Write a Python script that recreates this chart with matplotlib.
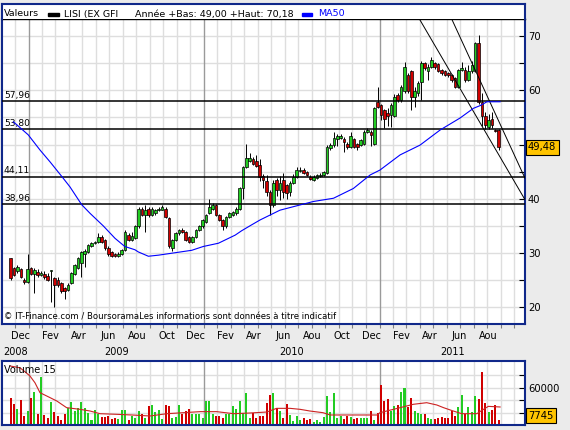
import matplotlib
matplotlib.use('Agg')
import matplotlib.pyplot as plt
import matplotlib.patches as mpatches
import pandas as pd

# weekly candles, first one dated 2008-11-25
start = pd.Timestamp('2008-11-25')

opens = [29.0, 27.2, 26.6, 27.0, 25.0, 24.6, 27.2, 26.1, 26.5, 25.9,
         26.2, 25.8, 26.6, 25.3, 25.1, 24.4, 23.5, 23.2, 24.4, 26.2,
         27.2, 28.1, 29.9, 30.2, 31.3, 31.9, 32.1, 33.0, 32.4, 30.9,
         30.2, 29.8, 29.4, 29.9, 30.5, 33.4, 32.4, 32.7, 34.9, 38.2,
         37.0, 38.2, 37.0, 37.3, 37.9, 38.0, 38.2, 36.4, 30.9, 32.4,
         33.6, 34.2, 33.9, 33.0, 32.1, 33.0, 34.2, 34.9, 35.8, 37.4,
         38.2, 38.9, 37.0, 36.1, 34.9, 36.7, 37.0, 37.3, 38.2, 41.9,
         45.9, 46.9, 47.4, 46.9, 46.2, 44.2, 43.2, 41.3, 38.8, 43.5,
         41.6, 43.5, 42.5, 41.3, 42.9, 44.1, 45.1, 45.4, 45.0, 44.1,
         43.5, 43.8, 44.2, 44.4, 44.7, 49.4, 49.9, 51.0, 51.3, 51.0,
         50.1, 49.6, 51.0, 50.1, 49.9, 50.2, 52.4, 52.4, 50.2, 57.9,
         57.3, 56.4, 55.8, 55.5, 55.2, 59.2, 58.2, 59.8, 62.8, 63.5,
         58.85, 59.5, 61.6, 65.0, 63.5, 64.4, 65.0, 64.8, 63.8, 63.5,
         63.2, 62.8, 62.2, 60.7, 63.8, 63.8, 61.9, 63.5, 63.5, 68.7,
         57.9, 55.2, 53.3, 54.8, 52.7, 52.7]
highs = [29.1, 27.4, 27.7, 27.3, 25.3, 29.9, 27.4, 27.3, 27.0, 26.7,
         26.7, 26.4, 26.9, 25.5, 25.6, 24.7, 23.8, 24.4, 26.5, 28.0,
         29.2, 30.4, 30.8, 31.7, 32.1, 32.3, 33.6, 33.3, 32.6, 31.2,
         30.4, 30.0, 30.2, 30.8, 34.2, 33.6, 33.8, 35.2, 38.5, 38.4,
         38.9, 38.4, 38.5, 38.2, 38.5, 38.9, 38.5, 36.6, 32.6, 33.8,
         34.4, 34.6, 34.1, 33.2, 33.2, 34.4, 35.1, 36.2, 37.2, 39.9,
         39.2, 39.1, 37.2, 36.3, 36.9, 37.5, 37.8, 38.4, 42.1, 46.0,
         50.2, 48.5, 47.7, 48.0, 47.4, 44.5, 44.3, 41.6, 43.4, 43.9,
         44.2, 44.7, 42.8, 43.2, 44.5, 45.8, 45.9, 45.6, 45.2, 44.4,
         44.3, 44.5, 44.7, 45.2, 50.0, 50.3, 52.4, 51.9, 52.0, 51.4,
         50.4, 52.4, 51.3, 50.3, 51.1, 52.7, 53.0, 52.7, 57.0, 60.7,
         57.5, 56.6, 56.8, 57.6, 59.3, 59.6, 61.0, 65.3, 63.2, 63.8,
         60.7, 61.8, 65.5, 65.3, 64.8, 66.2, 65.3, 65.0, 64.0, 63.7,
         63.4, 63.0, 62.4, 64.0, 65.2, 64.3, 64.6, 65.4, 69.0, 70.18,
         59.5, 56.0, 55.7, 56.0, 52.9, 52.9]
lows = [25.1, 25.7, 26.3, 25.4, 24.3, 24.4, 25.9, 22.6, 25.6, 25.7,
        25.2, 24.8, 21.0, 20.0, 23.8, 22.6, 21.6, 22.9, 24.2, 26.0,
        27.0, 25.6, 27.5, 30.0, 31.1, 31.6, 31.9, 31.8, 30.5, 29.5,
        29.3, 29.2, 29.2, 29.7, 30.4, 32.2, 32.2, 32.5, 34.7, 36.8,
        33.9, 36.7, 36.8, 37.1, 37.7, 37.9, 36.5, 31.0, 30.3, 32.2,
        33.4, 33.6, 32.2, 31.8, 31.9, 32.8, 34.0, 34.7, 35.6, 37.2,
        38.0, 36.8, 35.9, 34.2, 34.7, 36.5, 36.8, 37.1, 38.0, 40.0,
        45.7, 46.7, 46.3, 45.8, 43.2, 42.0, 40.5, 37.0, 38.5, 40.5,
        39.8, 40.2, 40.0, 40.5, 42.7, 43.9, 44.9, 44.5, 44.2, 43.4,
        43.3, 43.7, 44.0, 44.2, 44.5, 49.0, 49.6, 49.8, 51.0, 48.7,
        49.2, 49.3, 49.3, 49.0, 49.7, 49.9, 52.2, 49.8, 50.0, 56.8,
        54.5, 53.0, 53.5, 53.3, 55.0, 57.8, 57.9, 59.5, 59.5, 56.4,
        56.9, 59.0, 58.2, 63.8, 62.0, 64.2, 64.0, 63.3, 62.9, 62.6,
        62.5, 61.5, 60.5, 60.5, 63.5, 61.6, 61.7, 63.2, 63.3, 57.5,
        53.5, 52.8, 52.9, 53.0, 52.3, 49.0]
closes = [25.3, 25.9, 27.5, 25.6, 24.6, 27.0, 26.1, 26.8, 25.9, 26.4,
          25.6, 25.0, 26.8, 24.1, 24.1, 22.9, 22.9, 24.1, 26.3, 27.8,
          29.0, 30.2, 30.4, 31.5, 31.9, 32.1, 33.0, 32.1, 30.9, 29.8,
          29.5, 29.4, 29.9, 30.6, 33.9, 32.4, 33.2, 34.9, 38.2, 37.0,
          38.0, 37.0, 38.2, 37.9, 38.2, 38.4, 36.7, 31.2, 32.4, 33.6,
          34.2, 33.9, 32.4, 32.1, 33.0, 34.2, 34.9, 36.0, 37.0, 38.4,
          38.9, 37.0, 36.1, 34.9, 36.7, 37.3, 37.6, 38.2, 41.9, 45.9,
          47.5, 47.5, 46.5, 46.0, 44.1, 43.5, 41.3, 38.8, 43.0, 41.6,
          43.0, 41.3, 41.0, 42.9, 44.1, 45.3, 45.4, 44.8, 44.4, 43.6,
          44.1, 44.3, 44.4, 44.9, 49.6, 49.9, 51.2, 51.5, 51.5, 50.4,
          49.6, 51.6, 49.6, 49.6, 50.8, 52.4, 52.7, 51.8, 56.7, 57.0,
          55.5, 54.8, 55.2, 57.3, 58.85, 58.2, 60.7, 64.4, 59.8, 58.85,
          59.8, 61.3, 65.0, 64.1, 64.4, 65.6, 64.4, 63.6, 63.2, 62.9,
          62.8, 61.9, 60.7, 63.8, 64.1, 61.9, 63.5, 64.7, 68.7, 57.9,
          55.2, 53.6, 54.5, 53.6, 52.5, 49.48]
volumes = [44000, 34300, 25200, 39700, 14500, 22500, 44000, 53600, 18200, 77200,
           16100, 11800, 37500, 21500, 14500, 7500, 18200, 27900, 37500, 22500,
           27900, 37500, 27900, 19800, 7500, 24100, 18200, 12900, 12900, 14500,
           9100, 11800, 9100, 24100, 24100, 7500, 14500, 12000, 22500, 17200,
           11800, 30600, 32200, 21500, 24100, 9100, 32200, 30600, 11800, 12900,
           32200, 17200, 22500, 25200, 17200, 17200, 18200, 11800, 38600, 38600,
           17200, 14500, 14500, 11800, 17200, 17200, 30600, 25200, 38600, 19800,
           52000, 11800, 19800, 11800, 14500, 14500, 35900, 48300, 52000, 27900,
           22000, 10700, 33300, 16100, 6400, 14500, 7500, 10700, 7500, 9100,
           5400, 7500, 5400, 12900, 46700, 21500, 52000, 11800, 14500, 9100,
           14500, 12900, 9100, 10700, 10700, 10700, 11800, 22500, 7500, 19800,
           64400, 38600, 41300, 22500, 30600, 32200, 53600, 59000, 29000, 44000,
           22500, 19800, 17200, 17200, 10700, 9100, 9100, 11800, 12900, 10700,
           10700, 22500, 14500, 29000, 48300, 17200, 29000, 21500, 46700, 42400,
           85300, 35900, 21500, 23600, 32200, 7745]

# MA50 (week index, value)
ma50_weeks = [0.8, 5.2, 8.7, 11.7, 15.2, 17.6, 21.1, 23.6, 27.5, 31.0, 33.9,
              36.9, 37.9, 40.9, 43.9, 48.3, 53.8, 57.2, 61.7, 66.7, 68.6, 71.6,
              74.1, 80.0, 89.9, 95.9, 101.8, 106.8, 109.7, 115.7, 121.6, 127.6,
              133.5, 137.5, 139.5, 141.5, 145.4]
ma50_values = [54.2, 51.8, 49.0, 46.8, 44.1, 42.2, 38.9, 37.3, 35.0, 32.7, 31.2,
               30.6, 30.2, 29.4, 29.6, 30.0, 30.5, 31.2, 31.8, 33.3, 34.1, 35.2,
               36.1, 37.9, 39.5, 40.1, 41.9, 44.4, 45.3, 48.1, 49.9, 52.7,
               54.9, 56.7, 57.2, 57.9, 57.9]

# volume moving average (15)
volma_weeks = [-0.2, 2.8, 5.7, 7.2, 8.7, 11.7, 13.7, 16.6, 20.6, 23.6, 26.5,
               31.5, 36.4, 41.4, 46.4, 51.3, 56.3, 61.2, 66.2, 71.1, 76.1, 79.0,
               83.0, 86.0, 88.9, 92.8, 94.9, 108.8, 109.7, 115.7, 119.6, 123.6,
               126.6, 128.6, 131.5, 134.0, 138.5, 140.0, 141.9, 145.4]
volma_values = [95000, 92000, 79000, 68000, 52000, 44000, 38600, 27900, 25200,
                22500, 18200, 17200, 16000, 14500, 18200, 19800, 21500, 21500,
                18200, 19300, 20900, 26800, 26800, 25200, 22500, 19800, 16100,
                16100, 19800, 27900, 33300, 35900, 32200, 27900, 22500, 18200,
                18200, 23600, 30000, 29000]

levels = [57.96, 52.82, 44.11, 38.96]
level_labels = ['57,96', '53,80', '44,11', '38,96']

trend_lines = [((121.4, 73.2), (153.3, 39.3)), ((131.0, 73.2), (152.8, 43.8))]

month_dates = ['2008-12-15', '2009-02-15', '2009-04-15', '2009-06-15', '2009-08-15',
               '2009-10-15', '2009-12-15', '2010-02-15', '2010-04-15', '2010-06-15',
               '2010-08-15', '2010-10-15', '2010-12-15', '2011-02-15', '2011-04-15',
               '2011-06-15', '2011-08-15']
month_names = ['Dec', 'Fev', 'Avr', 'Jun', 'Aou', 'Oct', 'Dec', 'Fev', 'Avr', 'Jun',
               'Aou', 'Oct', 'Dec', 'Fev', 'Avr', 'Jun', 'Aou']
years = [2008, 2009, 2010, 2011]

last_price = '49,48'
last_volume = '7745'


def wk(d):
    return (pd.Timestamp(d) - start).days / 7


NAVY = '#10288a'
GREEN = '#22cc22'
RED = '#d00000'
GRID = '#dedede'
YEARLINE = '#9a9a9a'
FS = 6.6
plt.rcParams['font.family'] = ['DejaVu Sans']

W, H = 570, 430
fig = plt.figure(figsize=(W / 100, H / 100), dpi=100, facecolor='#ebebeb')


def box(x0, y0, x1, y1):
    return [x0 / W, 1 - y1 / H, (x1 - x0) / W, (y1 - y0) / H]


ax = fig.add_axes(box(2, 19, 525, 324))
hdr = fig.add_axes(box(2, 4, 525, 19))
vax = fig.add_axes(box(2, 361, 525, 425))

xmin, xmax = -2.59, 152.8
n = len(closes)
xs = list(range(n))

# vertical grid: every 4 weeks from each January, darker at the year
year_x = [wk(f'{y}-01-01') for y in (2009, 2010, 2011)]
grid_x = [year_x[0] - 4 * k for k in (1, 2)]
for b in year_x:
    grid_x += [b + 4 * k for k in range(1, 13)]
grid_x = [g for g in grid_x if xmin < g < xmax]

for a in (ax, vax):
    a.set_facecolor('white')
    for gx in grid_x:
        a.axvline(gx, color=GRID, lw=1, zorder=0)
    for gx in year_x:
        a.axvline(gx, color=YEARLINE, lw=1, zorder=0.5)
    for s in ('left', 'right', 'bottom', 'top'):
        a.spines[s].set_color(NAVY)
        a.spines[s].set_linewidth(1.5)

# ---- main price panel ----
for gy in range(20, 75, 5):
    ax.axhline(gy, color=GRID, lw=1, zorder=0)
ax.spines['top'].set_color('black')
ax.spines['top'].set_linewidth(1)

colors = [GREEN if c >= o else RED for o, c in zip(opens, closes)]
ax.vlines(xs, lows, highs, color='black', lw=0.7, zorder=2.5)
bottoms = [min(o, c) for o, c in zip(opens, closes)]
heights = [max(abs(c - o), 0.1) for o, c in zip(opens, closes)]
ax.bar(xs, heights, bottom=bottoms, width=0.78, color=colors,
       edgecolor='black', linewidth=0.5, zorder=3)

ax.plot(ma50_weeks, ma50_values, color='#0000ff', lw=0.8, zorder=4)

for lv, lb in zip(levels, level_labels):
    ax.axhline(lv, color='black', lw=1.1, zorder=3.5)
    ax.annotate(lb, xy=(0, lv), xycoords=('axes fraction', 'data'),
                xytext=(2, 1.5), textcoords='offset pixels',
                fontsize=FS, va='bottom', ha='left')

for (x0, y0), (x1, y1) in trend_lines:
    ax.plot([x0, x1], [y0, y1], color='black', lw=0.7, zorder=3.5)

ax.yaxis.tick_right()
# the "50" label sits under the last-price box in the original, so it is left out
ax.set_yticks([20, 30, 40, 50, 60, 70])
ax.set_yticklabels(['20', '30', '40', '', '60', '70'])
ax.set_yticks(range(25, 71, 10), minor=True)
ax.tick_params(axis='y', which='both', direction='in', length=4, width=0.8,
               color='black', pad=2, labelsize=FS + 0.6)
ax.set_xticks(grid_x + year_x)
ax.tick_params(axis='x', which='both', direction='out', length=3, width=0.8,
               color='#808080', labelbottom=False)
ax.set_xlim(xmin, xmax)
ax.set_ylim(16.9, 73.17)

ax.annotate(last_price, xy=(1, closes[-1]), xycoords=('axes fraction', 'data'),
            xytext=(3, 0), textcoords='offset pixels', fontsize=FS + 0.6,
            va='center', ha='left', annotation_clip=False, zorder=10,
            bbox=dict(boxstyle='square,pad=0.25', fc='#ffc400', ec='black', lw=0.8))

ax.text(0.004, 0.022, '\u00a9 IT-Finance.com / BoursoramaLes informations sont données à titre indicatif',
        transform=ax.transAxes, fontsize=FS - 0.5, va='center', ha='left')

for d, name in zip(month_dates, month_names):
    ax.text(wk(d), -0.039, name, transform=ax.get_xaxis_transform(),
            fontsize=FS + 0.4, ha='center', va='center', clip_on=False)
for y in years:
    a0 = max(wk(f'{y}-01-01'), xmin)
    a1 = min(wk(f'{y + 1}-01-01'), xmax)
    ax.text((a0 + a1) / 2, -0.092, str(y), transform=ax.get_xaxis_transform(),
            fontsize=FS + 0.4, ha='center', va='center', clip_on=False)

# ---- header ----
hdr.set_xlim(2, 525)
hdr.set_ylim(19, 4)
hdr.set_xticks([])
hdr.set_yticks([])
for s in ('left', 'right', 'top'):
    hdr.spines[s].set_color(NAVY)
    hdr.spines[s].set_linewidth(1.5)
hdr.spines['bottom'].set_visible(False)
hdr.text(4, 14, 'Valeurs', fontsize=FS + 0.2, va='center', ha='left')
hdr.add_patch(mpatches.Rectangle((48, 13.2), 11, 2.8, color='black'))
hdr.text(64, 14, 'LISI (EX GFI', fontsize=FS + 0.2, va='center', ha='left')
hdr.text(135, 14, 'Année +Bas: 49,00 +Haut: 70,18', fontsize=FS + 0.2, va='center', ha='left')
hdr.add_patch(mpatches.Rectangle((302, 13.2), 10, 2.8, color='#0000ff'))
hdr.text(318, 14, 'MA50', fontsize=FS + 0.2, va='center', ha='left', color='#0000ff')

# ---- volume panel ----
for gy in (20000, 40000, 60000, 80000):
    vax.axhline(gy, color=GRID, lw=1, zorder=0)
vax.bar(xs, volumes, width=0.6, color=colors, zorder=2)
vax.plot(volma_weeks, volma_values, color='#cc2222', lw=0.8, zorder=3)
vax.yaxis.tick_right()
vax.set_yticks([20000, 60000])
vax.set_yticklabels(['', '60000'])
vax.set_yticks([40000, 80000], minor=True)
vax.tick_params(axis='y', which='both', direction='in', length=4, width=0.8,
                color='black', pad=2, labelsize=FS + 0.6)
vax.set_xticks([])
vax.set_xlim(xmin, xmax)
vax.set_ylim(0, 103000)
vax.text(0.004, 0.86, 'Volume 15', transform=vax.transAxes, fontsize=FS + 0.4,
         va='center', ha='left')
vax.annotate(last_volume, xy=(1, 15000), xycoords=('axes fraction', 'data'),
             xytext=(3, 0), textcoords='offset pixels', fontsize=FS + 0.6,
             va='center', ha='left', annotation_clip=False, zorder=10,
             bbox=dict(boxstyle='square,pad=0.25', fc='#ffc400', ec='black', lw=0.8))

fig.savefig('out.png', dpi=100, facecolor=fig.get_facecolor())
